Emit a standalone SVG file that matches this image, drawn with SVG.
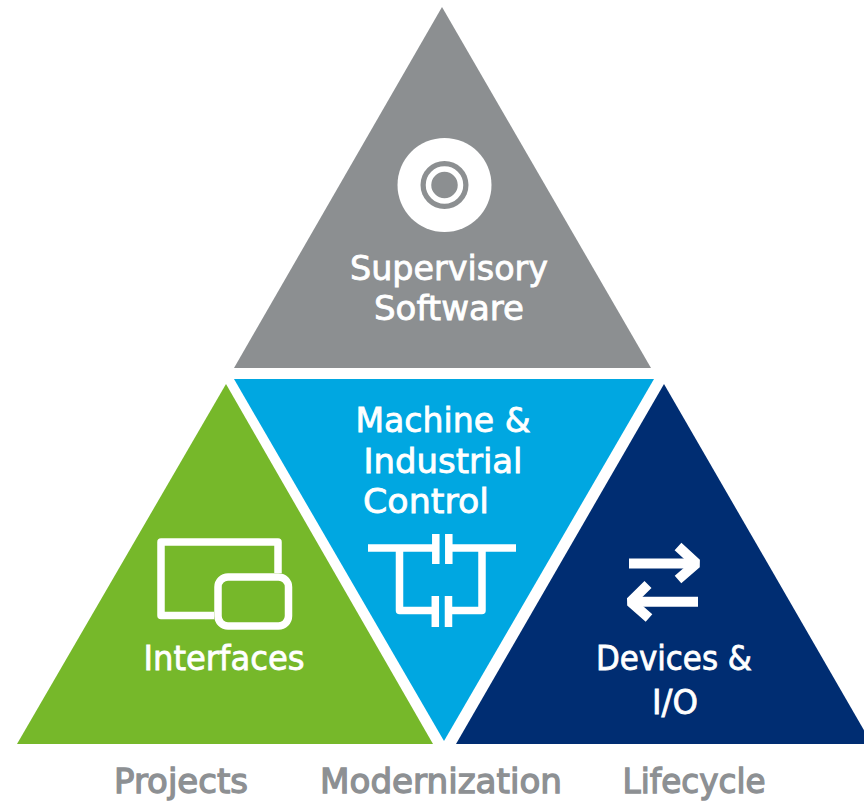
<svg xmlns="http://www.w3.org/2000/svg" width="864" height="802" viewBox="0 0 864 802">
<style>
text{font-family:"DejaVu Sans","Noto Sans",sans-serif;font-size:33.500px;fill:#fff;stroke:#fff;stroke-width:.8;text-anchor:middle}
.cap{fill:#8d9093;stroke:#8d9093;stroke-width:1.300;font-family:"DejaVu Sans","Noto Sans",sans-serif;font-size:33.500px}
.ln{fill:none;stroke:#fff;stroke-width:7.500;stroke-linejoin:round}
.ar{fill:none;stroke:#fff;stroke-width:10;stroke-linejoin:bevel}
</style>
<rect width="864" height="802" fill="#fff"/>
<g id="supervisory">
<polygon points="442,7 234,368 651,368" fill="#8c8f91"/>
<circle cx="444.500" cy="185" r="47" fill="#fff"/>
<circle cx="444.500" cy="185" r="24" fill="#8c8f91"/>
<circle cx="444.500" cy="185" r="16" fill="none" stroke="#fff" stroke-width="5.500"/>
<text x="449" y="280" textLength="198" lengthAdjust="spacingAndGlyphs">Supervisory</text>
<text x="449" y="320" textLength="150" lengthAdjust="spacingAndGlyphs">Software</text>
</g>
<g id="control">
<polygon points="234,379 654,379 444,741" fill="#00a7e1"/>
<text x="443" y="432" textLength="175" lengthAdjust="spacingAndGlyphs">Machine &amp;</text>
<text x="443" y="473" textLength="159" lengthAdjust="spacingAndGlyphs">Industrial</text>
<text x="426" y="513" textLength="126" lengthAdjust="spacingAndGlyphs">Control</text>
<path class="ln" d="M368,548H433M452,548H516M399.500,548V610.500H432M482,548V610.500H452"/>
<path class="ln" d="M435.800,534V564M448.800,534V564M435.300,596V627M448.500,596V627"/>
</g>
<g id="interfaces">
<polygon points="226,384 17,744 433,744" fill="#76b82a"/>
<path class="ln" d="M278,573V542H161V615.500H214"/>
<rect x="218" y="577" width="70.500" height="49" rx="10" class="ln"/>
<text x="224" y="670" textLength="161" lengthAdjust="spacingAndGlyphs">Interfaces</text>
</g>
<g id="devices">
<polygon points="664,384 456,744 872,744" fill="#002d72"/>
<path d="M629,563.500H694" class="ar"/>
<path d="M678,546.500L696.500,563.500 678,579.500" class="ar"/>
<path d="M698,601.700H634" class="ar"/>
<path d="M648,584.500L630.500,601.700 649,618" class="ar"/>
<text x="674" y="670" textLength="156" lengthAdjust="spacingAndGlyphs">Devices &amp;</text>
<text x="675" y="714" textLength="46" lengthAdjust="spacingAndGlyphs">I/O</text>
</g>
<g id="labels">
<text class="cap" x="181" y="793" textLength="134" lengthAdjust="spacingAndGlyphs">Projects</text>
<text class="cap" x="441" y="793" textLength="242" lengthAdjust="spacingAndGlyphs">Modernization</text>
<text class="cap" x="694" y="793" textLength="143" lengthAdjust="spacingAndGlyphs">Lifecycle</text>
</g>
</svg>
